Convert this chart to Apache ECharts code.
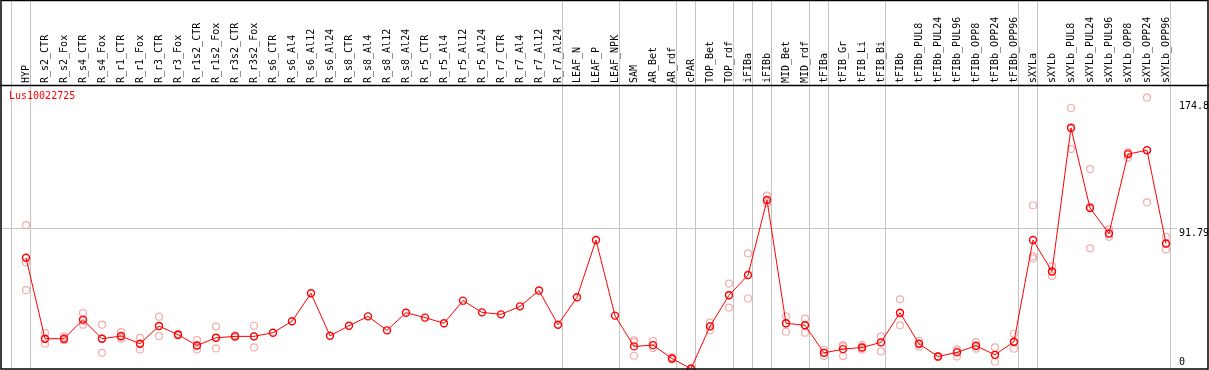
<!DOCTYPE html>
<html>
<head>
<meta charset="utf-8">
<script src="https://cdn.jsdelivr.net/npm/echarts@6/dist/echarts.min.js"></script>
<style>html,body{margin:0;padding:0;background:#fff;}#c{width:1209px;height:370px;}</style>
</head>
<body>
<div id="c"></div>
<script>
const title = "Lus10022725";
const categories = ["HYP","R_s2_CTR","R_s2_Fox","R_s4_CTR","R_s4_Fox","R_r1_CTR","R_r1_Fox","R_r3_CTR","R_r3_Fox","R_r1s2_CTR","R_r1s2_Fox","R_r3s2_CTR","R_r3s2_Fox","R_s6_CTR","R_s6_Al4","R_s6_Al12","R_s6_Al24","R_s8_CTR","R_s8_Al4","R_s8_Al12","R_s8_Al24","R_r5_CTR","R_r5_Al4","R_r5_Al12","R_r5_Al24","R_r7_CTR","R_r7_Al4","R_r7_Al12","R_r7_Al24","LEAF_N","LEAF_P","LEAF_NPK","SAM","AR_Bet","AR_rdf","cPAR","TOP_Bet","TOP_rdf","iFIBa","iFIBb","MID_Bet","MID_rdf","tFIBa","tFIB_Gr","tFIB_Li","tFIB_Bi","tFIBb","tFIBb_PUL8","tFIBb_PUL24","tFIBb_PUL96","tFIBb_OPP8","tFIBb_OPP24","tFIBb_OPP96","sXYLa","sXYLb","sXYLb_PUL8","sXYLb_PUL24","sXYLb_PUL96","sXYLb_OPP8","sXYLb_OPP24","sXYLb_OPP96"];
const means = [72.3,19.7,19.7,32.1,19.7,21.4,16.4,27.9,22.3,15.3,20.3,21.2,21.2,23.6,31.0,49.2,21.6,28.1,34.2,25.1,36.6,33.4,29.7,44.4,36.8,35.5,40.7,51.0,28.8,46.6,83.8,34.7,14.7,15.5,6.8,0.2,27.7,47.9,61.0,109.8,29.7,28.4,10.5,12.9,14.0,17.3,36.6,16.4,8.1,10.8,15.1,9.2,17.7,83.8,63.4,156.6,104.6,88.1,139.6,142.2,81.6];
const replicates = [
  [93.5,69.2,51.2],[23.3,16.4,19.4],[21.0,19.1,18.7],[36.4,28.8,31.2],[28.8,10.5,19.7],
  [24.0,19.7,20.8],[20.2,12.7,16.4],[34.0,21.4,27.9],[22.8,21.8,22.3],[18.7,12.7,15.3],
  [27.5,13.4,20.3],[21.9,21.2,20.6],[28.1,14.0,21.2],
  [],[],[],[],[],[],[],[],[],[],[],[],[],[],[],[],[],[],[],
  [18.6,8.6,17.5],[18.2,13.6,15.5],[7.7,6.2,6.6],[0.5,0.2,0.0],[30.1,25.1,27.7],
  [55.5,39.9,48.2],[75.1,45.8,61.5],[112.7,107.7,109.5],[34.2,24.2,29.7],[32.7,23.6,28.4],
  [12.5,8.4,10.5],[15.5,8.4,14.7],[15.5,12.7,14.0],[21.2,11.4,17.3],[45.3,28.4,36.1],
  [18.2,14.7,16.4],[8.4,7.7,8.1],[12.7,8.1,11.5],[17.5,13.2,14.7],[14.0,4.7,9.0],[22.9,13.2,17.1],
  [106.4,71.8,73.2],[66.8,60.5,63.0],[169.6,142.9,157.2],[129.9,78.4,105.5],[90.7,85.9,87.8],
  [140.9,137.4,140.4],[176.3,108.3,142.0],[85.9,77.7,81.2]
];
const groupEnds = [-1,0,28,31,34,35,37,38,39,41,42,45,52,53,60];
const yTicks = [0, 91.79, 174.8];

const FONT = "'DejaVu Sans Mono', 'Liberation Mono', monospace";
const chart = echarts.init(document.getElementById('c'), null, {renderer:'canvas'});
const idx = categories.map((c,i)=>i);
const meanData = means.map((v,i)=>[i,v]);
const repData = [];
replicates.forEach((arr,i)=>arr.forEach(v=>repData.push([i,v])));

chart.setOption({
  animation:false,
  title:{text:title,left:9,top:91,padding:0,textStyle:{color:'#ff0000',fontSize:10,fontWeight:'normal',fontFamily:FONT}},
  grid:{left:2,right:31,top:86,bottom:1,containLabel:false},
  xAxis:{type:'value',position:'top',min:-1.263,max:60.632,
    axisLine:{show:false},axisTick:{show:false},splitLine:{show:false},
    axisLabel:{customValues:idx,formatter:v=>categories[Math.round(v)],rotate:90,margin:3,fontSize:10,fontFamily:FONT,color:'#000'}},
  yAxis:{type:'value',min:0,max:183.9,axisLine:{show:false},axisTick:{show:false},splitLine:{show:false},axisLabel:{show:false}},
  series:[
    {type:'scatter',data:repData,symbol:'circle',symbolSize:7,itemStyle:{color:'rgba(0,0,0,0)',borderColor:'#f09898',borderWidth:1.2},z:3},
    {type:'line',data:meanData,symbol:'circle',symbolSize:7,lineStyle:{color:'#ff0000',width:1},itemStyle:{color:'rgba(0,0,0,0)',borderColor:'#ff0000',borderWidth:1.4},z:4}
  ]
});

const gx = v=>chart.convertToPixel({xAxisIndex:0},v);
const gy = v=>chart.convertToPixel({yAxisIndex:0},v);
const graphics = [];
groupEnds.forEach(g=>{
  const x = Math.round(gx(g+0.22))+0.5;
  graphics.push({type:'line',shape:{x1:x,y1:0,x2:x,y2:369},style:{stroke:'#c4c4c4',lineWidth:1},z:0,silent:true});
});
yTicks.forEach(t=>{
  const y = gy(t);
  if(t===91.79){
    graphics.push({type:'line',shape:{x1:0,y1:Math.round(y)+0.5,x2:1177,y2:Math.round(y)+0.5},style:{stroke:'#c4c4c4',lineWidth:1},z:0,silent:true});
  }
  graphics.push({type:'text',x:1179,y:t===0?y-2:y+1,style:{text:String(t),fill:'#000',font:'10px '+FONT,textVerticalAlign:t===0?'bottom':'top',verticalAlign:t===0?'bottom':'top'},z:5,silent:true});
});
graphics.push({type:'rect',shape:{x:1,y:0.5,width:1207,height:368.5},style:{fill:'none',stroke:'#000',lineWidth:1.5},z:6,silent:true});
graphics.push({type:'line',shape:{x1:0,y1:85.5,x2:1209,y2:85.5},style:{stroke:'#000',lineWidth:1.5},z:6,silent:true});
chart.setOption({graphic:graphics});
</script>
</body>
</html>
